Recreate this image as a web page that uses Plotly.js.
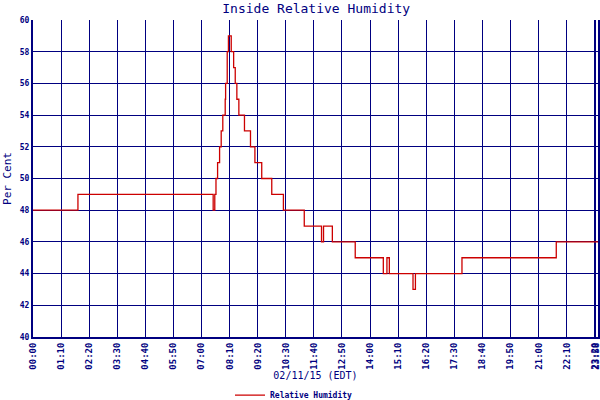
<!DOCTYPE html>
<html>
<head>
<meta charset="utf-8">
<script src="https://cdn.plot.ly/plotly-3.0.1.min.js"></script>
<style>html,body{margin:0;padding:0;background:#fff;}#chart{width:600px;height:400px;}</style>
</head>
<body>
<div id="chart"></div>
<script>
// Minutes after midnight (axis scale) and relative humidity (%)
const minutes = [0, 112, 449, 453, 456, 460, 465, 469, 473, 479, 480, 484, 487, 494, 500, 504, 508, 513, 527, 542, 553, 570, 595, 624, 676, 719, 724, 746, 803, 873, 882, 888, 947, 953, 1069, 1304, 1408];
const humidity = [48, 49, 48, 49, 50, 51, 52, 53, 54, 55, 56, 58, 59, 58, 57, 56, 55, 54, 53, 52, 51, 50, 49, 48, 47, 46, 47, 46, 45, 44, 45, 44, 43, 44, 45, 46, 46];

const tickVals = [0, 70, 140, 210, 280, 350, 420, 490, 560, 630, 700, 770, 840, 910, 980, 1050, 1120, 1190, 1260, 1330, 1400, 1402];
const tickText = ["00:00", "01:10", "02:20", "03:30", "04:40", "05:50", "07:00", "08:10", "09:20", "10:30", "11:40", "12:50", "14:00", "15:10", "16:20", "17:30", "18:40", "19:50", "21:00", "22:10", "23:20", "23:58"];
const yTicks = [40, 42, 44, 46, 48, 50, 52, 54, 56, 58, 60];

const navy = '#000080';
const mono = '"DejaVu Sans Mono", "Liberation Mono", monospace';

const trace = {
  x: minutes,
  y: humidity,
  type: 'scatter',
  mode: 'lines',
  name: 'Relative Humidity',
  line: {color: '#cc0000', width: 1.3, shape: 'hv'}
};

const layout = {
  width: 600,
  height: 400,
  margin: {l: 33, r: 2, t: 20, b: 63, autoexpand: false},
  paper_bgcolor: '#ffffff',
  plot_bgcolor: '#ffffff',
  title: {
    text: 'Inside Relative Humidity',
    font: {family: mono, size: 13, color: navy},
    x: 0.527, xanchor: 'center', y: 0.978, yanchor: 'middle'
  },
  xaxis: {
    range: [0, 1408],
    automargin: false,
    tickvals: tickVals,
    ticktext: tickText,
    tickangle: -90,
    ticklabeloverflow: 'allow',
    tickfont: {family: mono, size: 9, color: navy, weight: 'bold'},
    ticks: '',
    showgrid: true,
    gridcolor: navy,
    gridwidth: 1,
    showline: true,
    linecolor: navy,
    linewidth: 2,
    zeroline: false,
    title: {text: '02/11/15 (EDT)', font: {family: mono, size: 10, color: navy}, standoff: 11}
  },
  yaxis: {
    range: [40, 60],
    automargin: false,
    tickvals: yTicks,
    tickfont: {family: mono, size: 8, color: navy, weight: 'bold'},
    ticks: '',
    showgrid: true,
    gridcolor: navy,
    gridwidth: 1,
    showline: true,
    mirror: true,
    linecolor: navy,
    linewidth: 2,
    zeroline: false,
    title: {text: 'Per Cent', font: {family: mono, size: 11, color: navy}, standoff: 6}
  },
  showlegend: true,
  legend: {
    orientation: 'h',
    xref: 'container', yref: 'container',
    x: 0.49, xanchor: 'center',
    y: 0.012, yanchor: 'middle',
    font: {family: mono, size: 8, color: navy, weight: 'bold'},
    itemwidth: 30
  }
};

Plotly.newPlot('chart', [trace], layout, {displayModeBar: false, staticPlot: true});
</script>
</body>
</html>
